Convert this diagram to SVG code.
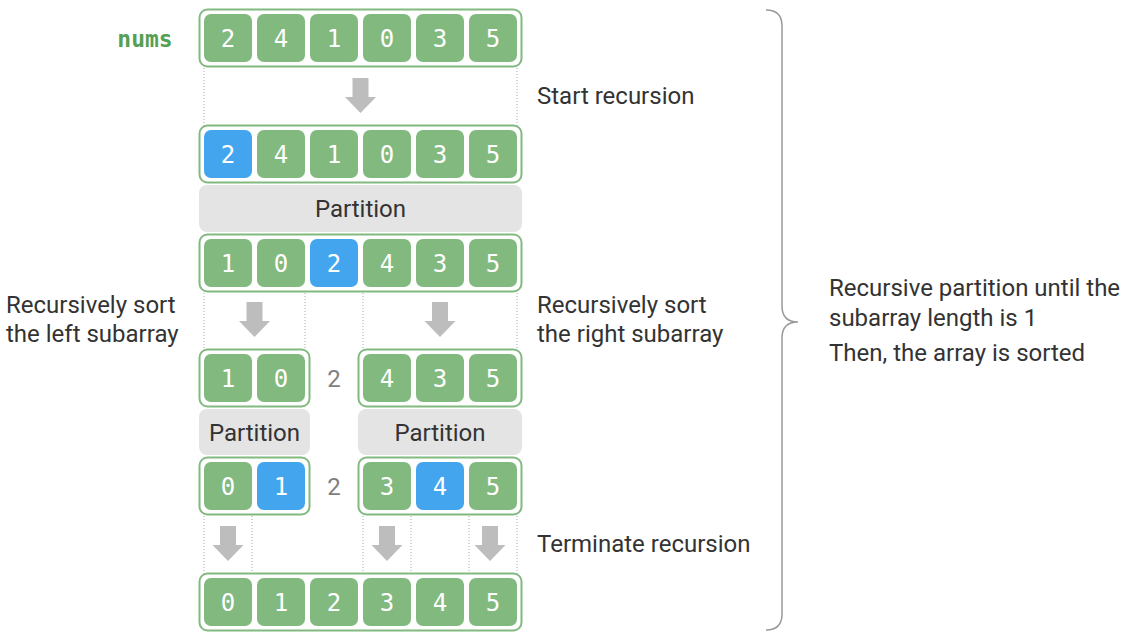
<svg xmlns="http://www.w3.org/2000/svg" width="1130" height="639" viewBox="0 0 1130 639">
<style>
.frame{fill:#fff;stroke:#82b97f;stroke-width:2}
.g{fill:#82b97f}
.b{fill:#42a5ee}
.num{font-family:"DejaVu Sans Mono","Liberation Mono",monospace;font-size:24px;fill:#fff;text-anchor:middle}
.lbl{font-family:Roboto,"Liberation Sans",sans-serif;font-size:24px;fill:#333}
.part{fill:#e4e4e4}
.pt{font-family:Roboto,"Liberation Sans",sans-serif;font-size:24px;fill:#333;text-anchor:middle}
.piv{font-family:Roboto,"Liberation Sans",sans-serif;font-size:24px;fill:#808080;text-anchor:middle}
.dot{stroke:#a8a8a8;stroke-width:1;stroke-dasharray:1 2;fill:none}
.arr{fill:#bdbdbd}
</style>
<defs>
<path id="arrow" d="M -8 0 H 8 V 19 H 15.5 L 0 35 L -15.5 19 H -8 Z"/>
</defs>
<g id="labels">
<text x="145" y="47" font-family="'DejaVu Sans Mono','Liberation Mono',monospace" font-size="23" font-weight="bold" fill="#55a052" text-anchor="middle">nums</text>
<text class="lbl" x="537" y="104">Start recursion</text>
<text class="lbl" x="6" y="313">Recursively sort</text>
<text class="lbl" x="6" y="342">the left subarray</text>
<text class="lbl" x="537" y="313">Recursively sort</text>
<text class="lbl" x="537" y="342">the right subarray</text>
<text class="lbl" x="537" y="552">Terminate recursion</text>
<text class="lbl" x="829" y="296">Recursive partition until the</text>
<text class="lbl" x="829" y="326">subarray length is 1</text>
<text class="lbl" x="829" y="361">Then, the array is sorted</text>
</g>
<g id="connectors">
<line class="dot" x1="204" y1="62" x2="204" y2="130"/>
<line class="dot" x1="517" y1="62" x2="517" y2="130"/>
<use href="#arrow" x="360.5" y="78" class="arr"/>
<line class="dot" x1="204" y1="287" x2="204" y2="354"/>
<line class="dot" x1="305" y1="287" x2="305" y2="354"/>
<line class="dot" x1="363" y1="287" x2="363" y2="354"/>
<line class="dot" x1="517" y1="287" x2="517" y2="354"/>
<use href="#arrow" x="254.5" y="302" class="arr"/>
<use href="#arrow" x="440" y="302" class="arr"/>
<line class="dot" x1="204" y1="510" x2="204" y2="578"/>
<line class="dot" x1="252" y1="510" x2="252" y2="578"/>
<line class="dot" x1="363" y1="510" x2="363" y2="578"/>
<line class="dot" x1="411" y1="510" x2="411" y2="578"/>
<line class="dot" x1="469" y1="510" x2="469" y2="578"/>
<line class="dot" x1="517" y1="510" x2="517" y2="578"/>
<use href="#arrow" x="228" y="526" class="arr"/>
<use href="#arrow" x="387" y="526" class="arr"/>
<use href="#arrow" x="490" y="526" class="arr"/>
<path d="M 766 10 Q 782 10 782 26 L 782 306 Q 782 322 798 322 Q 782 322 782 338 L 782 614 Q 782 630 766 630" fill="none" stroke="#9a9a9a" stroke-width="1.5"/>
</g>
<g id="row1">
<rect class="frame" x="199.5" y="9.5" width="322" height="57" rx="8"/>
<rect class="g" x="204" y="14" width="48" height="48" rx="7"/><text class="num" x="228" y="47">2</text>
<rect class="g" x="257" y="14" width="48" height="48" rx="7"/><text class="num" x="281" y="47">4</text>
<rect class="g" x="310" y="14" width="48" height="48" rx="7"/><text class="num" x="334" y="47">1</text>
<rect class="g" x="363" y="14" width="48" height="48" rx="7"/><text class="num" x="387" y="47">0</text>
<rect class="g" x="416" y="14" width="48" height="48" rx="7"/><text class="num" x="440" y="47">3</text>
<rect class="g" x="469" y="14" width="48" height="48" rx="7"/><text class="num" x="493" y="47">5</text>
</g>
<g id="row2">
<rect class="frame" x="199.5" y="125.5" width="322" height="57" rx="8"/>
<rect class="b" x="204" y="130" width="48" height="48" rx="7"/><text class="num" x="228" y="163">2</text>
<rect class="g" x="257" y="130" width="48" height="48" rx="7"/><text class="num" x="281" y="163">4</text>
<rect class="g" x="310" y="130" width="48" height="48" rx="7"/><text class="num" x="334" y="163">1</text>
<rect class="g" x="363" y="130" width="48" height="48" rx="7"/><text class="num" x="387" y="163">0</text>
<rect class="g" x="416" y="130" width="48" height="48" rx="7"/><text class="num" x="440" y="163">3</text>
<rect class="g" x="469" y="130" width="48" height="48" rx="7"/><text class="num" x="493" y="163">5</text>
</g>
<g id="partition1">
<rect class="part" x="199" y="185" width="323" height="47" rx="8"/>
<text class="pt" x="360.5" y="217">Partition</text>
</g>
<g id="row3">
<rect class="frame" x="199.5" y="234.5" width="322" height="57" rx="8"/>
<rect class="g" x="204" y="239" width="48" height="48" rx="7"/><text class="num" x="228" y="272">1</text>
<rect class="g" x="257" y="239" width="48" height="48" rx="7"/><text class="num" x="281" y="272">0</text>
<rect class="b" x="310" y="239" width="48" height="48" rx="7"/><text class="num" x="334" y="272">2</text>
<rect class="g" x="363" y="239" width="48" height="48" rx="7"/><text class="num" x="387" y="272">4</text>
<rect class="g" x="416" y="239" width="48" height="48" rx="7"/><text class="num" x="440" y="272">3</text>
<rect class="g" x="469" y="239" width="48" height="48" rx="7"/><text class="num" x="493" y="272">5</text>
</g>
<g id="row4-left">
<rect class="frame" x="199.5" y="349.5" width="110" height="57" rx="8"/>
<rect class="g" x="204" y="354" width="48" height="48" rx="7"/><text class="num" x="228" y="387">1</text>
<rect class="g" x="257" y="354" width="48" height="48" rx="7"/><text class="num" x="281" y="387">0</text>
</g>
<g id="row4-pivot"><text class="piv" x="334" y="387">2</text></g>
<g id="row4-right">
<rect class="frame" x="358.5" y="349.5" width="163" height="57" rx="8"/>
<rect class="g" x="363" y="354" width="48" height="48" rx="7"/><text class="num" x="387" y="387">4</text>
<rect class="g" x="416" y="354" width="48" height="48" rx="7"/><text class="num" x="440" y="387">3</text>
<rect class="g" x="469" y="354" width="48" height="48" rx="7"/><text class="num" x="493" y="387">5</text>
</g>
<g id="partition-left">
<rect class="part" x="199" y="409" width="111" height="46" rx="8"/>
<text class="pt" x="254.5" y="441">Partition</text>
</g>
<g id="partition-right">
<rect class="part" x="358" y="409" width="164" height="46" rx="8"/>
<text class="pt" x="440" y="441">Partition</text>
</g>
<g id="row5-left">
<rect class="frame" x="199.5" y="457.5" width="110" height="57" rx="8"/>
<rect class="g" x="204" y="462" width="48" height="48" rx="7"/><text class="num" x="228" y="495">0</text>
<rect class="b" x="257" y="462" width="48" height="48" rx="7"/><text class="num" x="281" y="495">1</text>
</g>
<g id="row5-pivot"><text class="piv" x="334" y="495">2</text></g>
<g id="row5-right">
<rect class="frame" x="358.5" y="457.5" width="163" height="57" rx="8"/>
<rect class="g" x="363" y="462" width="48" height="48" rx="7"/><text class="num" x="387" y="495">3</text>
<rect class="b" x="416" y="462" width="48" height="48" rx="7"/><text class="num" x="440" y="495">4</text>
<rect class="g" x="469" y="462" width="48" height="48" rx="7"/><text class="num" x="493" y="495">5</text>
</g>
<g id="row6">
<rect class="frame" x="199.5" y="573.5" width="322" height="57" rx="8"/>
<rect class="g" x="204" y="578" width="48" height="48" rx="7"/><text class="num" x="228" y="611">0</text>
<rect class="g" x="257" y="578" width="48" height="48" rx="7"/><text class="num" x="281" y="611">1</text>
<rect class="g" x="310" y="578" width="48" height="48" rx="7"/><text class="num" x="334" y="611">2</text>
<rect class="g" x="363" y="578" width="48" height="48" rx="7"/><text class="num" x="387" y="611">3</text>
<rect class="g" x="416" y="578" width="48" height="48" rx="7"/><text class="num" x="440" y="611">4</text>
<rect class="g" x="469" y="578" width="48" height="48" rx="7"/><text class="num" x="493" y="611">5</text>
</g>
</svg>
